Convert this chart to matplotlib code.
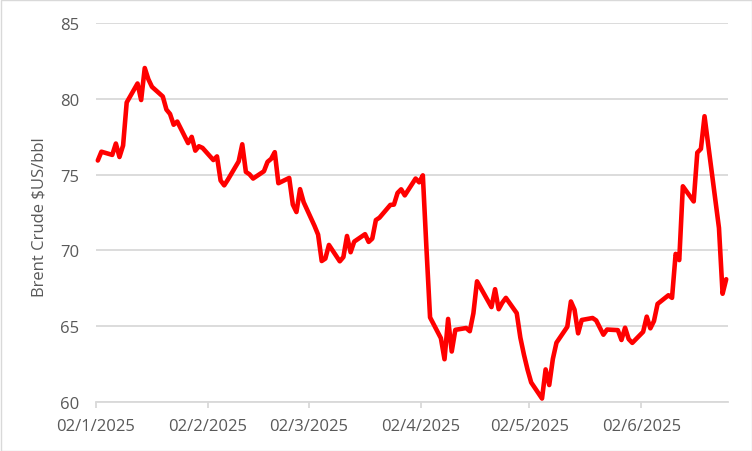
import matplotlib
matplotlib.use("Agg")
import matplotlib.pyplot as plt
from matplotlib.patches import Rectangle
import pandas as pd

# ---- data (Brent crude, $US/bbl, daily trading days) ----
start_date = "2025-01-02"
end_date = "2025-06-25"
closed_days = ["2025-04-18"]

jan_prices = [75.93, 76.51, 76.30, 77.05, 76.16, 76.92, 79.76, 81.01, 79.92, 82.03, 81.29,
              80.79, 80.15, 79.29, 79.00, 78.29, 78.50, 77.08, 77.49, 76.58, 76.87, 76.76]
feb_prices = [75.96, 76.20, 74.61, 74.29, 74.66, 75.87, 77.00, 75.18, 75.02, 74.74,
              75.22, 75.84, 76.04, 76.48, 74.43, 74.78, 73.02, 72.53, 74.04, 73.18]
mar_prices = [71.62, 71.04, 69.30, 69.46, 70.36, 69.28, 69.56, 70.95, 69.88, 70.58,
              71.07, 70.56, 70.78, 72.00, 72.16, 73.00, 73.02, 73.79, 74.03, 73.63, 74.74]
apr_prices = [74.49, 74.95, 70.14, 65.58, 64.21, 62.82, 65.48, 63.33, 64.76, 64.88,
              64.67, 65.85, 67.96, 66.26, 67.44, 66.12, 66.55, 66.87, 65.86, 64.25, 63.12]
may_prices = [62.13, 61.29, 60.23, 62.15, 61.12, 62.84, 63.91, 64.96, 66.63, 66.09, 64.53,
              65.41, 65.54, 65.38, 64.91, 64.44, 64.78, 64.74, 64.09, 64.90, 64.15, 63.90]
jun_prices = [64.63, 65.63, 64.86, 65.34, 66.47, 67.04, 66.87, 69.77, 69.36, 74.23,
              73.23, 76.45, 76.70, 78.85, 77.01, 71.48, 67.14, 68.10]

tick_dates = ["2025-01-02", "2025-02-02", "2025-03-02", "2025-04-02", "2025-05-02", "2025-06-02"]
tick_labels = ["02/1/2025", "02/2/2025", "02/3/2025", "02/4/2025", "02/5/2025", "02/6/2025"]
y_ticks = [60, 65, 70, 75, 80, 85]
y_label = "Brent Crude $US/bbl"

# ---- build series ----
dates = pd.bdate_range(start_date, end_date)
dates = dates[~dates.isin(pd.to_datetime(closed_days))]
prices = jan_prices + feb_prices + mar_prices + apr_prices + may_prices + jun_prices
assert len(dates) == len(prices), (len(dates), len(prices))

# Excel-style date axis: each point sits in the middle of its day slot
plot_dates = dates + pd.Timedelta(hours=12)

plt.rcParams["font.family"] = ["Open Sans", "DejaVu Sans"]
txt_color = "#595959"
grid_color = "#D9D9D9"

fig = plt.figure(figsize=(7.52, 4.52), dpi=100)
ax = fig.add_axes([96 / 752, 49 / 452, 632 / 752, 379 / 452])

ax.plot(plot_dates, prices, color="#FF0000", lw=3.3, solid_joinstyle="round",
        solid_capstyle="round", zorder=3, clip_on=False)

ax.set_ylim(60, 85)
ax.set_yticks(y_ticks)
ax.set_xlim(pd.Timestamp(start_date), pd.Timestamp("2025-06-26"))
ax.set_xticks(pd.to_datetime(tick_dates))
ax.set_xticklabels(tick_labels)

ax.grid(axis="y", color=grid_color, lw=1.3, zorder=0)
for s in ["top", "right", "left"]:
    ax.spines[s].set_visible(False)
ax.spines["bottom"].set_color(grid_color)
ax.spines["bottom"].set_linewidth(1.3)
ax.spines["bottom"].set_zorder(1)

ax.tick_params(axis="y", length=0, pad=12, labelsize=12, labelcolor=txt_color)
ax.tick_params(axis="x", length=4, width=1.3, color=grid_color, pad=7.5, labelsize=12,
               labelcolor=txt_color)

fig.text(40 / 752, 1 - 217 / 452, y_label, rotation=90, ha="center", va="center",
         fontsize=12, color=txt_color)

# chart-area border
fig.patches.append(Rectangle((0.5 / 752, 0.5 / 452), 751 / 752, 451 / 452,
                             transform=fig.transFigure, fill=False,
                             edgecolor=grid_color, lw=1.0))

fig.savefig("out.png", dpi=100)
